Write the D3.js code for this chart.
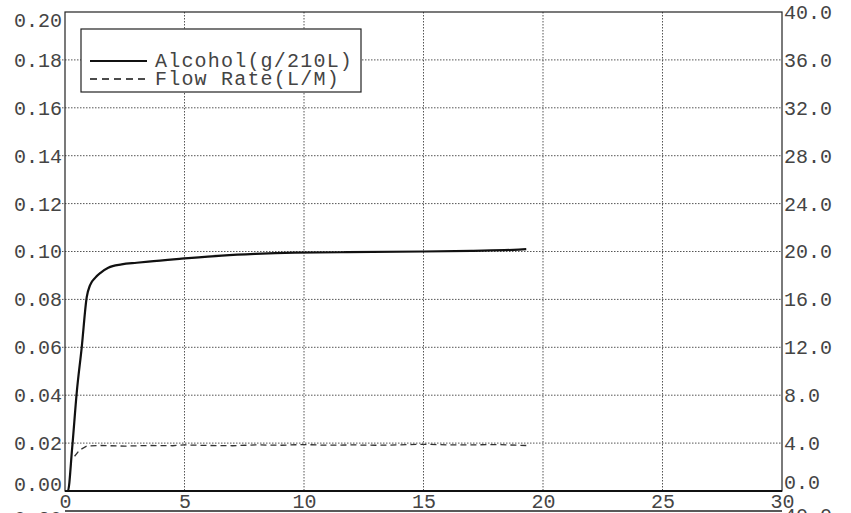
<!DOCTYPE html>
<html>
<head>
<meta charset="utf-8">
<script src="https://cdn.jsdelivr.net/npm/d3@7"></script>
<style>
  body { margin: 0; background: #fff; }
  text { font-family: "Liberation Mono", "DejaVu Sans Mono", monospace; fill: #444; }
</style>
</head>
<body>
<div id="chart-container"></div>
<script>
// Alcohol reading (left axis, g/210L) over time
const alcoholX = [0, 0.12, 0.3, 0.49, 0.7, 0.91, 1.05, 1.26, 1.5, 1.81, 2.37, 3.0, 3.49, 4.88, 6.56, 7.95, 9.62, 11.8, 15.0, 17.0, 18.77, 19.3];
const alcoholY = [0, 0, 0.018, 0.041, 0.060, 0.081, 0.086, 0.089, 0.0912, 0.0932, 0.0946, 0.0953, 0.0958, 0.097, 0.0983, 0.099, 0.0995, 0.0997, 0.1, 0.1003, 0.1007, 0.101];
// Flow rate (right axis, L/M)
const flowX = [0.4, 0.6, 0.9, 1.5, 2.5, 3.5, 4.5, 5, 6, 7, 8, 9, 10, 11, 12, 13, 14, 15, 16, 17, 18, 19.3];
const flowY = [2.9, 3.4, 3.75, 3.8, 3.75, 3.8, 3.78, 3.85, 3.8, 3.78, 3.85, 3.82, 3.88, 3.82, 3.85, 3.82, 3.85, 3.9, 3.85, 3.85, 3.88, 3.8];
const xTicks = [0, 5, 10, 15, 20, 25, 30];
const leftTicks = [0, 0.02, 0.04, 0.06, 0.08, 0.10, 0.12, 0.14, 0.16, 0.18, 0.20];
const rightTicks = [0, 4, 8, 12, 16, 20, 24, 28, 32, 36, 40];
const legendLabels = ["Alcohol(g/210L)", "Flow Rate(L/M)"];

const margin = { top: 12, right: 69, bottom: 22, left: 65 };
const W = 851, H = 513;
const width = W - margin.left - margin.right;
const height = H - margin.top - margin.bottom;

const svg = d3.select("#chart-container").append("svg")
  .attr("width", W).attr("height", H);
const g = svg.append("g").attr("transform", `translate(${margin.left},${margin.top})`);

const x = d3.scaleLinear().domain([0, 30]).range([0, width]);
const yL = d3.scaleLinear().domain([0, 0.2]).range([height, 0]);
const yR = d3.scaleLinear().domain([0, 40]).range([height, 0]);

// grid lines
g.selectAll(".hgrid").data(leftTicks.slice(1, -1)).enter().append("line")
  .attr("x1", -6).attr("x2", width)
  .attr("y1", d => yL(d)).attr("y2", d => yL(d))
  .attr("stroke", "#555").attr("stroke-width", 1).attr("stroke-dasharray", "1.5,1.5");
g.selectAll(".vgrid").data(xTicks.slice(1, -1)).enter().append("line")
  .attr("x1", d => x(d)).attr("x2", d => x(d))
  .attr("y1", 0).attr("y2", height)
  .attr("stroke", "#555").attr("stroke-width", 1).attr("stroke-dasharray", "1.5,1.5");

// axes
const axL = g.append("g").call(d3.axisLeft(yL).tickValues(leftTicks).tickFormat(d3.format(".2f")).tickSize(0).tickPadding(3));
const axR = g.append("g").attr("transform", `translate(${width},0)`)
  .call(d3.axisRight(yR).tickValues(rightTicks).tickFormat(d3.format(".1f")).tickSize(0).tickPadding(2));
const axB = g.append("g").attr("transform", `translate(0,${height})`)
  .call(d3.axisBottom(x).tickValues(xTicks).tickSize(0).tickPadding(4));
[axL, axR, axB].forEach(a => {
  a.select(".domain").remove();
  a.selectAll("text").style("font-size", "20px").attr("fill", "#444");
});
axL.selectAll("text").attr("dy", d => d === 0 ? "-0.05em" : d === 0.2 ? "0.7em" : "0.32em");
axR.selectAll("text").attr("dy", d => d === 0 ? "-0.15em" : "0.32em");
axB.selectAll("text").attr("dy", "0.66em");

// frame
g.append("rect").attr("width", width).attr("height", height)
  .attr("fill", "none").attr("stroke", "#222").attr("stroke-width", 1.2);
g.append("line").attr("x1", 0).attr("x2", width).attr("y1", height).attr("y2", height)
  .attr("stroke", "#111").attr("stroke-width", 2);

// lines
const alcLine = d3.line().x((d, i) => x(alcoholX[i])).y(d => yL(d)).curve(d3.curveMonotoneX);
g.append("path").datum(alcoholY).attr("d", alcLine)
  .attr("fill", "none").attr("stroke", "#111").attr("stroke-width", 2.2);
const flowLine = d3.line().x((d, i) => x(flowX[i])).y(d => yR(d));
g.append("path").datum(flowY).attr("d", flowLine)
  .attr("fill", "none").attr("stroke", "#333").attr("stroke-width", 1.3).attr("stroke-dasharray", "6,4");

// legend
const leg = svg.append("g").attr("transform", "translate(81,29)");
leg.append("rect").attr("width", 280).attr("height", 63)
  .attr("fill", "#fff").attr("stroke", "#222").attr("stroke-width", 1.2);
legendLabels.forEach((lab, i) => {
  const ly = 32 + i * 18;
  leg.append("line").attr("x1", 9).attr("x2", 66).attr("y1", ly).attr("y2", ly)
    .attr("stroke", "#111").attr("stroke-width", i === 0 ? 2 : 1.3)
    .attr("stroke-dasharray", i === 0 ? null : "7,5");
  leg.append("text").attr("x", 74).attr("y", ly).attr("dy", "0.32em")
    .style("font-size", "20px").style("letter-spacing", "1.2px").text(lab);
});

// top edge of the next chart, cut off by the page
svg.append("line").attr("x1", margin.left).attr("x2", margin.left + width)
  .attr("y1", 511).attr("y2", 511).attr("stroke", "#222").attr("stroke-width", 1.5);
svg.append("text").attr("x", margin.left - 3).attr("y", 525).attr("text-anchor", "end")
  .style("font-size", "20px").text(leftTicks[leftTicks.length - 1].toFixed(2));
svg.append("text").attr("x", margin.left + width + 2).attr("y", 522)
  .style("font-size", "20px").text(rightTicks[rightTicks.length - 1].toFixed(1));
</script>
</body>
</html>
